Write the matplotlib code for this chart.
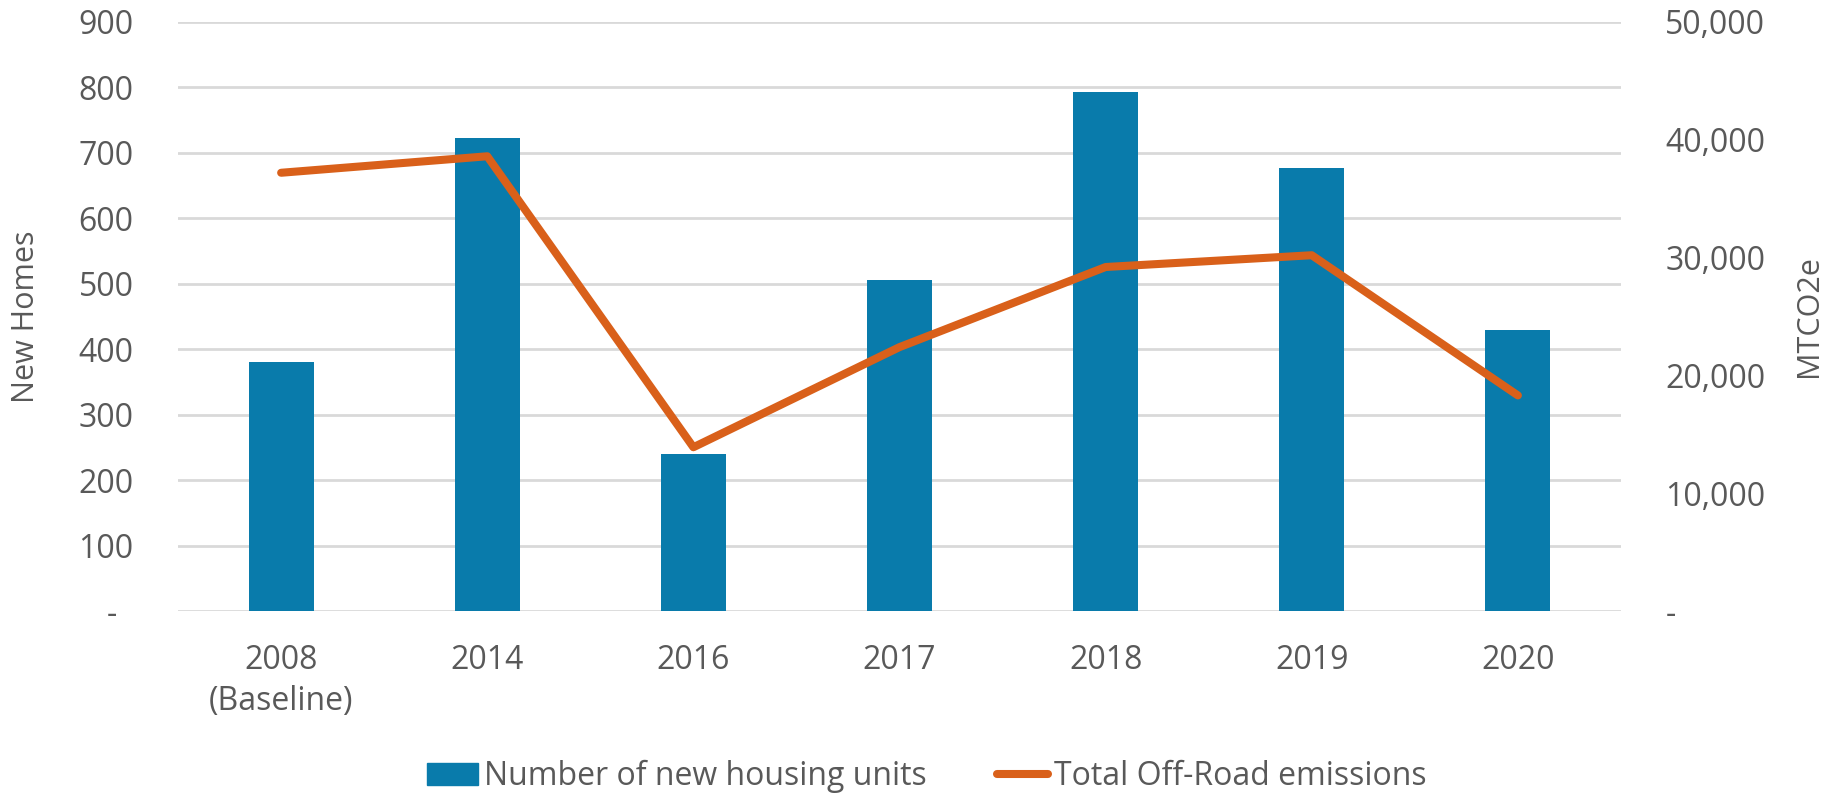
"""
new housing units vs off-road emissions, bar + line on twin axes
"""

import matplotlib
matplotlib.use('Agg')
import matplotlib.pyplot as plt
from matplotlib.lines import Line2D
from matplotlib.patches import Patch

# data
years = ['2008\n(Baseline)', '2014', '2016', '2017', '2018', '2019', '2020']
new_homes = [380, 722, 240, 506, 793, 677, 430]
emissions = [37200, 38600, 13900, 22400, 29200, 30200, 18300]

left_ticks = list(range(0, 1000, 100))
right_ticks = list(range(0, 60000, 10000))

bar_color = '#097bab'
line_color = '#d9601a'
grid_color = '#d9d9d9'
text_color = '#595959'

plt.rcParams['font.family'] = ['Open Sans', 'DejaVu Sans']

tick_size = 23
label_size = 22
legend_size = 23

fig = plt.figure(figsize=(18.32, 7.93), dpi=100)
ax = fig.add_axes([0.0972, 0.2295, 0.7876, 0.7428])
ax2 = ax.twinx()

x = list(range(len(years)))
ax.bar(x, new_homes, width=0.315, color=bar_color, zorder=2)
ax2.plot(x, emissions, color=line_color, lw=5.8, solid_capstyle='round',
         solid_joinstyle='round', zorder=3)

ax.set_xlim(-0.5, len(years) - 0.5)
ax.set_ylim(0, 900)
ax2.set_ylim(0, 50000)

ax.set_yticks(left_ticks)
ax.set_yticklabels(['-  ' if v == 0 else str(v) for v in left_ticks])
ax2.set_yticks(right_ticks)
ax2.set_yticklabels(['-' if v == 0 else '{:,}'.format(v) for v in right_ticks])
ax.set_xticks(x)
ax.set_xticklabels(years, linespacing=1.3)

ax.set_axisbelow(True)
ax.yaxis.grid(True, color=grid_color, lw=2)
for a in (ax, ax2):
    for s in a.spines.values():
        s.set_visible(False)

ax.tick_params(axis='y', length=0, pad=32, labelsize=tick_size, labelcolor=text_color)
ax.tick_params(axis='x', length=0, pad=24, labelsize=tick_size, labelcolor=text_color)
ax2.tick_params(axis='y', length=0, pad=32, labelsize=tick_size, labelcolor=text_color)
for lab in ax2.get_yticklabels():
    lab.set_ha('left')

ax.set_ylabel('New Homes', fontsize=label_size, color=text_color, va='center')
ax.yaxis.set_label_coords(-0.1053, 0.5)
ax2.set_ylabel('MTCO2e', fontsize=label_size, color=text_color, va='center', rotation=90)
ax2.yaxis.set_label_coords(1.130, 0.5)

handles = [Patch(color=bar_color, label='Number of new housing units'),
           Line2D([], [], color=line_color, lw=5.8, solid_capstyle='round',
                  label='Total Off-Road emissions')]
fig.legend(handles=handles, loc='center', bbox_to_anchor=(0.506, 0.021), ncol=2,
           frameon=False, handlelength=1.6, handleheight=0.69, handletextpad=0.19,
           columnspacing=2.2, fontsize=legend_size, labelcolor=text_color,
           borderpad=0, borderaxespad=0)

plt.savefig('out.png', dpi=100)
